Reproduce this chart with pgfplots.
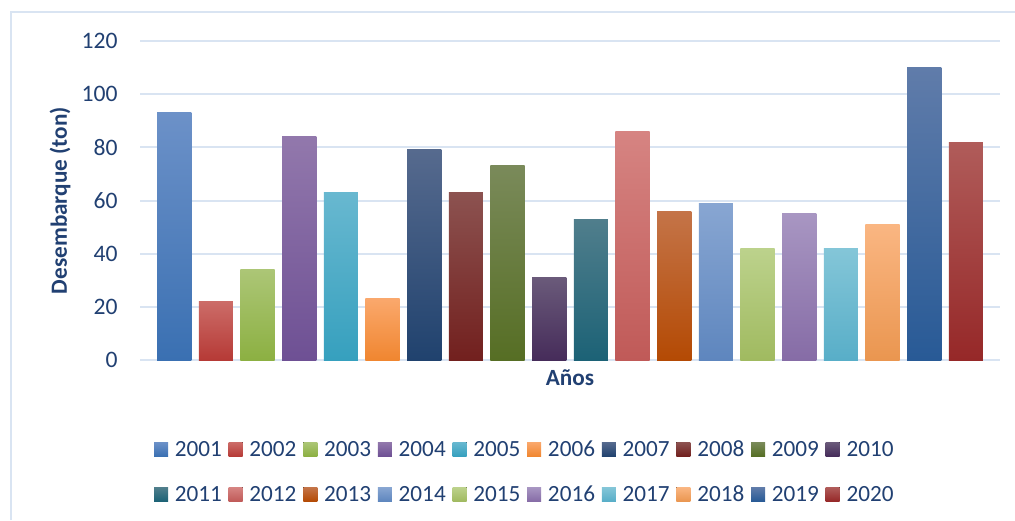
\documentclass[border=0pt]{standalone}
\usepackage{fontspec}
\setmainfont{Carlito}
\usepackage{pgfplots}
\pgfplotsset{compat=1.18}

\definecolor{txt}{RGB}{33,64,114}
\definecolor{grd}{RGB}{217,228,242}
% top / bottom colour of every bar
\definecolor{t01}{RGB}{108,145,200}\definecolor{b01}{RGB}{58,112,178}
\definecolor{t02}{RGB}{204,108,104}\definecolor{b02}{RGB}{182,58,54}
\definecolor{t03}{RGB}{172,198,118}\definecolor{b03}{RGB}{140,176,66}
\definecolor{t04}{RGB}{146,120,172}\definecolor{b04}{RGB}{110,80,148}
\definecolor{t05}{RGB}{104,184,208}\definecolor{b05}{RGB}{54,160,190}
\definecolor{t06}{RGB}{250,168,108}\definecolor{b06}{RGB}{240,134,48}
\definecolor{t07}{RGB}{86,106,142}\definecolor{b07}{RGB}{32,66,110}
\definecolor{t08}{RGB}{140,82,80}\definecolor{b08}{RGB}{114,32,30}
\definecolor{t09}{RGB}{122,138,90}\definecolor{b09}{RGB}{86,110,36}
\definecolor{t10}{RGB}{106,90,122}\definecolor{b10}{RGB}{70,44,90}
\definecolor{t11}{RGB}{80,126,140}\definecolor{b11}{RGB}{28,98,118}
\definecolor{t12}{RGB}{214,132,130}\definecolor{b12}{RGB}{192,90,88}
\definecolor{t13}{RGB}{196,116,72}\definecolor{b13}{RGB}{180,74,4}
\definecolor{t14}{RGB}{136,166,210}\definecolor{b14}{RGB}{94,134,190}
\definecolor{t15}{RGB}{188,210,140}\definecolor{b15}{RGB}{160,186,96}
\definecolor{t16}{RGB}{168,150,194}\definecolor{b16}{RGB}{134,108,166}
\definecolor{t17}{RGB}{132,198,216}\definecolor{b17}{RGB}{88,174,200}
\definecolor{t18}{RGB}{250,182,130}\definecolor{b18}{RGB}{234,150,80}
\definecolor{t19}{RGB}{96,124,170}\definecolor{b19}{RGB}{40,90,150}
\definecolor{t20}{RGB}{176,92,90}\definecolor{b20}{RGB}{150,40,40}

\pgfplotsset{
  yr/.style 2 args={ybar, bar shift=0pt, bar width=0.82, draw=none,
    top color=#1, bottom color=#2,
    legend image code/.code={\fill[top color=#1, bottom color=#2, draw=none]
      (0pt,-3.5pt) rectangle (7pt,3.5pt);}},
}

\begin{document}
\fontsize{11.6}{14}\selectfont
\begin{tikzpicture}
\useasboundingbox (0,0) rectangle (507.5pt,260pt);
\draw[grd, line width=1pt] (5.5pt,0) -- (5.5pt,254pt) -- (507.5pt,254pt);
\begin{axis}[
    at={(70pt,80pt)}, anchor=south west,
    scale only axis, width=430pt, height=159.5pt,
    xmin=-0.82, xmax=19.82, ymin=0, ymax=120,
    ytick={0,20,...,120}, xtick=\empty,
    ymajorgrids, grid style={grd, line width=1pt},
    axis line style={draw=none}, major tick length=0pt,
    /pgf/number format/assume math mode=true,
    tick label style={font=\fontsize{11.8}{14}\selectfont, text=txt},
    yticklabel style={inner sep=0pt, xshift=-11pt},
    label style={font=\fontsize{11.6}{14}\selectfont\bfseries, text=txt},
    ylabel={Desembarque (ton)},
    xlabel={Años},
    ylabel style={at={(axis description cs:-0.093,0.5)}, anchor=center},
    xlabel style={at={(axis description cs:0.5,-0.056)}, anchor=center},
    legend columns=10,
    legend style={at={(axis description cs:0.0163,-0.257)}, anchor=north west,
      draw=none, fill=none, inner sep=0pt, outer sep=0pt,
      font=\fontsize{11.6}{14}\selectfont, text=txt, row sep=15.2pt,
      nodes={inner sep=0pt, text height=7.3pt, text depth=0pt},
      /tikz/every odd column/.append style={column sep=3.4pt},
      /tikz/every even column/.append style={column sep=3.4pt}},
]
\addplot[yr={t01}{b01}] coordinates {(0,93)};
\addplot[yr={t02}{b02}] coordinates {(1,22)};
\addplot[yr={t03}{b03}] coordinates {(2,34)};
\addplot[yr={t04}{b04}] coordinates {(3,84)};
\addplot[yr={t05}{b05}] coordinates {(4,63)};
\addplot[yr={t06}{b06}] coordinates {(5,23)};
\addplot[yr={t07}{b07}] coordinates {(6,79)};
\addplot[yr={t08}{b08}] coordinates {(7,63)};
\addplot[yr={t09}{b09}] coordinates {(8,73)};
\addplot[yr={t10}{b10}] coordinates {(9,31)};
\addplot[yr={t11}{b11}] coordinates {(10,53)};
\addplot[yr={t12}{b12}] coordinates {(11,86)};
\addplot[yr={t13}{b13}] coordinates {(12,56)};
\addplot[yr={t14}{b14}] coordinates {(13,59)};
\addplot[yr={t15}{b15}] coordinates {(14,42)};
\addplot[yr={t16}{b16}] coordinates {(15,55)};
\addplot[yr={t17}{b17}] coordinates {(16,42)};
\addplot[yr={t18}{b18}] coordinates {(17,51)};
\addplot[yr={t19}{b19}] coordinates {(18,110)};
\addplot[yr={t20}{b20}] coordinates {(19,82)};
\legend{2001,2002,2003,2004,2005,2006,2007,2008,2009,2010,
        2011,2012,2013,2014,2015,2016,2017,2018,2019,2020}
\end{axis}
\end{tikzpicture}
\end{document}
